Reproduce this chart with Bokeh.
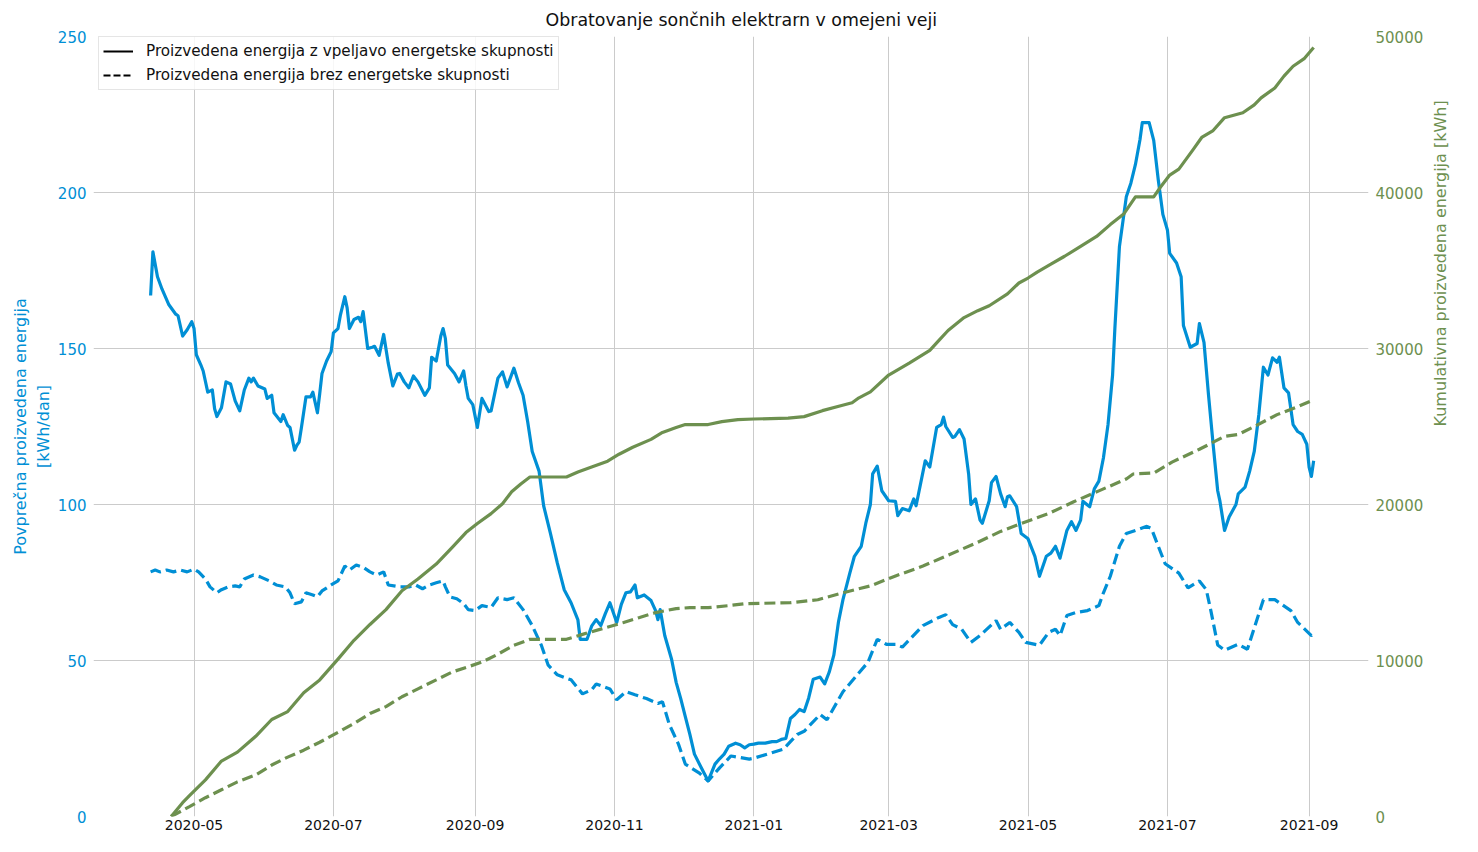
import math
import pandas as pd
from datetime import datetime
from bokeh.plotting import figure
from bokeh.models import (Range1d, LinearAxis, FixedTicker, DatetimeTickFormatter,
                          Legend, LegendItem)
from bokeh.embed import file_html
from bokeh.resources import INLINE

BLUE = "#008fd5"
GREEN = "#6d904f"
GRID = "#cbcbcb"
FONT = "DejaVu Sans"

title_text = "Obratovanje sončnih elektrarn v omejeni veji"
left_label = "Povprečna proizvedena energija\n[kWh/dan]"
right_label = "Kumulativna proizvedena energija [kWh]"
legend_labels = ["Proizvedena energija z vpeljavo energetske skupnosti",
                 "Proizvedena energija brez energetske skupnosti"]

x_tick_labels = ["2020-05", "2020-07", "2020-09", "2020-11", "2021-01",
                 "2021-03", "2021-05", "2021-07", "2021-09"]
left_ticks = [0, 50, 100, 150, 200, 250]
right_ticks = [0, 10000, 20000, 30000, 40000, 50000]

# Average daily production WITH energy community (solid blue)
solid_dates = [
    "2020-04-12", "2020-04-13", "2020-04-15", "2020-04-17", "2020-04-20", "2020-04-23", "2020-04-24", "2020-04-26", "2020-04-28", "2020-04-30",
    "2020-05-01", "2020-05-02", "2020-05-04", "2020-05-05", "2020-05-07", "2020-05-09", "2020-05-10", "2020-05-11", "2020-05-13", "2020-05-15", "2020-05-17", "2020-05-19", "2020-05-21", "2020-05-23", "2020-05-25", "2020-05-26", "2020-05-27", "2020-05-29",
    "2020-06-01", "2020-06-02", "2020-06-04", "2020-06-05", "2020-06-08", "2020-06-09", "2020-06-11", "2020-06-12", "2020-06-14", "2020-06-15", "2020-06-16", "2020-06-17", "2020-06-19", "2020-06-21", "2020-06-22", "2020-06-24", "2020-06-25", "2020-06-26", "2020-06-28", "2020-06-30",
    "2020-07-01", "2020-07-03", "2020-07-04", "2020-07-06", "2020-07-07", "2020-07-08", "2020-07-10", "2020-07-12", "2020-07-13", "2020-07-14", "2020-07-16", "2020-07-18", "2020-07-19", "2020-07-21", "2020-07-23", "2020-07-25", "2020-07-27", "2020-07-29", "2020-07-30",
    "2020-08-01", "2020-08-03", "2020-08-05", "2020-08-07", "2020-08-10", "2020-08-12", "2020-08-13", "2020-08-15", "2020-08-17", "2020-08-18", "2020-08-19", "2020-08-20", "2020-08-23", "2020-08-25", "2020-08-27", "2020-08-28", "2020-08-29", "2020-08-31",
    "2020-09-02", "2020-09-04", "2020-09-07", "2020-09-08", "2020-09-11", "2020-09-13", "2020-09-15", "2020-09-18", "2020-09-20", "2020-09-22", "2020-09-24", "2020-09-26", "2020-09-29",
    "2020-10-01", "2020-10-04", "2020-10-07", "2020-10-10", "2020-10-13", "2020-10-16", "2020-10-17", "2020-10-20", "2020-10-22", "2020-10-24", "2020-10-26", "2020-10-28", "2020-10-30",
    "2020-11-02", "2020-11-04", "2020-11-06", "2020-11-08", "2020-11-10", "2020-11-11", "2020-11-14", "2020-11-17", "2020-11-19", "2020-11-20", "2020-11-21", "2020-11-23", "2020-11-26", "2020-11-28", "2020-11-30",
    "2020-12-02", "2020-12-04", "2020-12-06", "2020-12-09", "2020-12-12", "2020-12-15", "2020-12-17", "2020-12-19", "2020-12-21", "2020-12-24", "2020-12-26", "2020-12-28", "2020-12-30",
    "2021-01-01", "2021-01-03", "2021-01-06", "2021-01-09", "2021-01-11", "2021-01-13", "2021-01-15", "2021-01-17", "2021-01-19", "2021-01-21", "2021-01-23", "2021-01-25", "2021-01-27", "2021-01-30",
    "2021-02-01", "2021-02-03", "2021-02-05", "2021-02-07", "2021-02-09", "2021-02-12", "2021-02-14", "2021-02-17", "2021-02-19", "2021-02-21", "2021-02-22", "2021-02-24", "2021-02-26",
    "2021-03-01", "2021-03-04", "2021-03-05", "2021-03-07", "2021-03-10", "2021-03-12", "2021-03-13", "2021-03-17", "2021-03-19", "2021-03-22", "2021-03-24", "2021-03-25", "2021-03-26", "2021-03-29", "2021-03-30",
    "2021-04-01", "2021-04-03", "2021-04-05", "2021-04-06", "2021-04-08", "2021-04-10", "2021-04-11", "2021-04-14", "2021-04-15", "2021-04-17", "2021-04-19", "2021-04-21", "2021-04-22", "2021-04-23", "2021-04-26", "2021-04-28",
    "2021-05-01", "2021-05-04", "2021-05-06", "2021-05-09", "2021-05-11", "2021-05-13", "2021-05-15", "2021-05-18", "2021-05-20", "2021-05-22", "2021-05-24", "2021-05-25", "2021-05-28", "2021-05-30",
    "2021-06-01", "2021-06-03", "2021-06-05", "2021-06-07", "2021-06-08", "2021-06-10", "2021-06-13", "2021-06-15", "2021-06-17", "2021-06-19", "2021-06-20", "2021-06-23", "2021-06-25", "2021-06-27", "2021-06-29",
    "2021-07-01", "2021-07-02", "2021-07-05", "2021-07-07", "2021-07-08", "2021-07-11", "2021-07-14", "2021-07-15", "2021-07-17", "2021-07-19", "2021-07-21", "2021-07-23", "2021-07-24", "2021-07-26", "2021-07-28", "2021-07-31",
    "2021-08-01", "2021-08-04", "2021-08-06", "2021-08-08", "2021-08-10", "2021-08-12", "2021-08-14", "2021-08-16", "2021-08-18", "2021-08-19", "2021-08-21", "2021-08-23", "2021-08-25", "2021-08-27", "2021-08-29", "2021-08-31",
    "2021-09-01", "2021-09-02", "2021-09-03",
]
solid_values = [
    167, 181, 173, 169, 164, 161, 160.5, 154, 156, 158.6,
    156.4, 148, 144.7, 142.8, 136, 136.7, 130.7, 128.2, 131, 139.3, 138.6, 133.2, 130, 136.7, 140.5, 139.3, 140.5, 138,
    137, 134, 135, 129.4, 126.6, 128.8, 125.3, 124.7, 117.4, 119, 120, 124.7, 134.5, 134.5, 136, 129.4, 135.5, 142, 146, 149,
    155, 156.4, 160.5, 166.6, 163, 156.4, 159.3, 160, 158.6, 161.8, 150, 150.4, 150.7, 147.8, 154.5, 145.3, 138, 141.8, 142,
    139.3, 137.4, 141.2, 139.3, 135, 137.4, 147.2, 146, 154, 156.4, 153.2, 144.7, 142, 139.3, 142.8, 138, 134, 132,
    124.7, 134, 129.8, 130, 140.5, 142.5, 137.7, 143.7, 139, 135, 126.6, 117, 110.7,
    99.6, 90.7, 81.2, 72.7, 68.5, 63, 56.8, 56.8, 61, 63.1, 61.2, 65, 68.5,
    62.2, 68, 71.7, 72, 74.2, 70.1, 71, 69.2, 66, 63.1, 66.3, 58, 50.4, 43, 37.8,
    32, 26.3, 20, 15.6, 11.4, 16.8, 18.5, 20, 22.5, 23.5, 23, 22, 23,
    23.2, 23.5, 23.5, 24, 24, 24.7, 25, 31.4, 32.7, 34.3, 33.6, 38, 44, 44.7,
    42.5, 46.3, 51.7, 62.2, 69.5, 78, 83.4, 86.6, 94, 100, 109.8, 112.3, 104.4,
    101.2, 101, 96.4, 98.7, 98, 101.8, 99.6, 114, 112, 124.7, 125.6, 128, 125, 121.5, 121.8,
    124, 121, 109.8, 100, 101.8, 95, 94, 101.2, 107, 109, 103.4, 99.3, 102.5, 102.8, 99.3, 90.7,
    89, 83.4, 77, 83.4, 84.4, 86.6, 82.8, 91.7, 94.5, 91.7, 95, 101, 99.3, 105,
    107.5, 115, 125.6, 141.5, 156.4, 182.7, 198.6, 203, 209, 217, 222.4, 222.4, 216.7, 204, 193,
    188, 180.5, 177.4, 173, 157.4, 150.4, 151.6, 158, 152, 135, 119.3, 104.4, 101, 91.7, 96, 100,
    103.4, 105.6, 110.7, 117, 128.8, 144, 141.5, 147, 145.6, 147.2, 137.4, 135.8, 125.6, 123.4, 122.5, 119.3,
    112, 109, 114,
]

# Average daily production WITHOUT energy community (dashed blue)
dashed_dates = [
    "2020-04-12", "2020-04-14", "2020-04-16", "2020-04-19", "2020-04-22", "2020-04-25", "2020-04-28",
    "2020-05-01", "2020-05-03", "2020-05-06", "2020-05-08", "2020-05-11", "2020-05-13", "2020-05-16", "2020-05-19", "2020-05-21", "2020-05-23", "2020-05-27", "2020-05-30",
    "2020-06-03", "2020-06-06", "2020-06-10", "2020-06-12", "2020-06-14", "2020-06-17", "2020-06-19", "2020-06-22", "2020-06-24", "2020-06-26", "2020-06-30",
    "2020-07-03", "2020-07-06", "2020-07-08", "2020-07-11", "2020-07-14", "2020-07-17", "2020-07-20", "2020-07-23", "2020-07-25", "2020-07-30",
    "2020-08-03", "2020-08-06", "2020-08-09", "2020-08-12", "2020-08-15", "2020-08-18", "2020-08-19", "2020-08-21", "2020-08-24", "2020-08-27", "2020-08-29",
    "2020-09-01", "2020-09-04", "2020-09-08", "2020-09-11", "2020-09-15", "2020-09-18", "2020-09-22", "2020-09-26", "2020-09-30",
    "2020-10-03", "2020-10-07", "2020-10-13", "2020-10-18", "2020-10-22", "2020-10-24", "2020-10-30",
    "2020-11-02", "2020-11-06", "2020-11-10", "2020-11-15", "2020-11-20", "2020-11-22", "2020-11-25", "2020-11-29",
    "2020-12-02", "2020-12-08", "2020-12-12", "2020-12-17", "2020-12-22", "2020-12-30",
    "2021-01-01", "2021-01-07", "2021-01-14", "2021-01-17", "2021-01-20", "2021-01-23", "2021-01-30",
    "2021-02-02", "2021-02-09", "2021-02-20", "2021-02-24", "2021-02-28",
    "2021-03-04", "2021-03-07", "2021-03-16", "2021-03-23", "2021-03-26", "2021-03-29",
    "2021-04-02", "2021-04-06", "2021-04-10", "2021-04-17", "2021-04-19", "2021-04-23", "2021-04-27", "2021-04-30",
    "2021-05-06", "2021-05-10", "2021-05-13", "2021-05-15", "2021-05-18", "2021-05-22", "2021-05-27",
    "2021-06-01", "2021-06-03", "2021-06-06", "2021-06-10", "2021-06-13", "2021-06-17", "2021-06-22", "2021-06-24", "2021-06-26", "2021-06-30",
    "2021-07-06", "2021-07-10", "2021-07-15", "2021-07-18", "2021-07-20", "2021-07-23", "2021-07-26",
    "2021-08-01", "2021-08-05", "2021-08-12", "2021-08-17", "2021-08-24", "2021-08-27",
    "2021-09-02", "2021-09-03",
]
dashed_values = [
    78.4, 79, 78.4, 79, 78.4, 79, 78.4,
    79.3, 78.4, 76.1, 73.6, 71.7, 72.7, 73.6, 73.9, 73.6, 76.1, 77.4, 76.8,
    75.5, 74.2, 73.6, 71.7, 68.2, 68.8, 71.7, 71, 70.4, 72.3, 74.2,
    75.5, 80.3, 79, 80.6, 79.9, 78.4, 77.4, 78.4, 74.2, 73.6,
    73.6, 74.2, 73, 74.2, 74.9, 75.5, 73.6, 70.4, 69.8, 68.2, 66.3,
    66, 67.6, 67, 70.1, 69.5, 70.1, 66.3, 61.2, 54.9,
    48.5, 45.4, 43.8, 39.3, 40.6, 42.5, 40.9,
    37.4, 40, 39, 37.8, 36.2, 36.8, 29.5, 23.2,
    16.8, 14, 11.4, 15.6, 19.4, 18.4,
    18.7, 20, 21.6, 24, 26.3, 27.3, 32.7,
    31, 40, 49.5, 56.8, 55.2,
    55.2, 54.3, 61.2, 63.8, 64.7, 61.5,
    60, 55.8, 58, 62.8, 60, 62.2, 59, 55.8,
    54.9, 59, 60, 58, 64.4, 65.4, 66,
    67.6, 71.7, 77, 86.6, 90.7, 91.7, 93, 92.3, 88.5, 81,
    78, 73.3, 75.5, 72.7, 66, 55, 53.3,
    55.2, 53.6, 69.5, 69.5, 66, 62.2,
    58, 58.4,
]

# Cumulative production WITH energy community (solid green, right axis)
cum_solid_dates = [
    "2020-04-21", "2020-04-26", "2020-04-29", "2020-05-06", "2020-05-13", "2020-05-20", "2020-05-28",
    "2020-06-04", "2020-06-11", "2020-06-18", "2020-06-25", "2020-07-03", "2020-07-10", "2020-07-17",
    "2020-07-24", "2020-07-31", "2020-08-07", "2020-08-15", "2020-08-22", "2020-08-28", "2020-09-02",
    "2020-09-08", "2020-09-13", "2020-09-17", "2020-09-21", "2020-09-25", "2020-10-11", "2020-10-16",
    "2020-10-22", "2020-10-29", "2020-11-03", "2020-11-09", "2020-11-17", "2020-11-22", "2020-11-28",
    "2020-12-02", "2020-12-12", "2020-12-18", "2020-12-25", "2021-01-01", "2021-01-16", "2021-01-23",
    "2021-01-31", "2021-02-08", "2021-02-13", "2021-02-16", "2021-02-21", "2021-03-01", "2021-03-10",
    "2021-03-19", "2021-03-23", "2021-03-27", "2021-04-03", "2021-04-09", "2021-04-14", "2021-04-22",
    "2021-04-27", "2021-05-01", "2021-05-05", "2021-05-11", "2021-05-17", "2021-05-24", "2021-05-31",
    "2021-06-06", "2021-06-12", "2021-06-17", "2021-06-25", "2021-06-28", "2021-07-02", "2021-07-06",
    "2021-07-12", "2021-07-16", "2021-07-21", "2021-07-26", "2021-08-03", "2021-08-08", "2021-08-11",
    "2021-08-17", "2021-08-21", "2021-08-25", "2021-08-30", "2021-09-03",
]
cum_solid_values = [
    0, 888, 1332, 2350, 3553, 4124, 5140,
    6218, 6726, 7931, 8756, 10089, 11294, 12309,
    13261, 14466, 15228, 16180, 17258, 18200, 18781,
    19416, 20050, 20812, 21319, 21764, 21764, 22081,
    22398, 22779, 23223, 23667, 24174, 24618, 24936,
    25126, 25126, 25316, 25443, 25480, 25540, 25634,
    26015, 26332, 26522, 26840, 27220, 28300, 29060,
    29885, 30520, 31155, 31980, 32424, 32740, 33500,
    34200, 34517, 34900, 35405, 35913, 36547, 37182,
    37943, 38641, 39720, 39720, 40354, 41116, 41497,
    42702, 43527, 43971, 44796, 45113, 45620, 46065,
    46700, 47460, 48095, 48600, 49300,
]

# Cumulative production WITHOUT energy community (dashed green, right axis)
cum_dashed_dates = [
    "2020-04-21", "2020-04-29", "2020-05-06", "2020-05-13", "2020-05-20", "2020-05-28", "2020-06-04",
    "2020-06-11", "2020-06-18", "2020-06-25", "2020-07-03", "2020-07-10", "2020-07-17", "2020-07-24",
    "2020-07-31", "2020-08-07", "2020-08-15", "2020-08-22", "2020-08-29", "2020-09-04", "2020-09-11",
    "2020-09-18", "2020-09-25", "2020-10-11", "2020-10-18", "2020-10-27", "2020-11-05", "2020-11-12",
    "2020-11-19", "2020-11-28", "2020-12-04", "2020-12-12", "2020-12-21", "2020-12-28", "2021-01-17",
    "2021-01-29", "2021-02-09", "2021-02-21", "2021-03-04", "2021-03-16", "2021-03-27", "2021-04-08",
    "2021-04-19", "2021-04-28", "2021-05-10", "2021-05-21", "2021-06-01", "2021-06-13", "2021-06-16",
    "2021-06-25", "2021-07-03", "2021-07-15", "2021-07-26", "2021-08-01", "2021-08-08", "2021-08-18",
    "2021-08-27", "2021-09-03",
]
cum_dashed_values = [
    0, 634, 1205, 1713, 2220, 2665, 3299,
    3807, 4251, 4759, 5393, 5964, 6599, 7043,
    7677, 8185, 8756, 9264, 9600, 9898, 10406,
    10977, 11358, 11358, 11675, 12056, 12436, 12753,
    13071, 13325, 13388, 13388, 13515, 13642, 13705,
    13896, 14340, 14784, 15418, 16053, 16751, 17512,
    18274, 18781, 19416, 20177, 20875, 21637, 21954,
    22018, 22716, 23540, 24365, 24492, 24999, 25761,
    26269, 26713,
]

to_dt = lambda lst: pd.to_datetime(lst)

x_start = datetime(2020, 3, 18)
x_end = datetime(2021, 9, 27)

p = figure(width=1462, height=836, x_axis_type="datetime",
           x_range=Range1d(x_start, x_end), y_range=Range1d(0, 250),
           output_backend="svg", toolbar_location=None,
           min_border_left=93, min_border_right=60,
           min_border_top=36, min_border_bottom=20)
p.extra_y_ranges = {"cum": Range1d(0, 50000)}

p.title.text = title_text
p.title.align = "left"
p.title.offset = 452
p.title.text_font = FONT
p.title.text_font_size = "17.4px"
p.title.text_font_style = "normal"
p.title.text_color = "#111111"
p.title.standoff = 14

p.outline_line_color = None
p.background_fill_color = "white"
p.border_fill_color = "white"

x_ticks = [pd.Timestamp(t + "-01").value // 10**6 for t in x_tick_labels]
xt = FixedTicker(ticks=x_ticks)
p.xaxis.ticker = xt
p.xaxis.formatter = DatetimeTickFormatter(days="%Y-%m", months="%Y-%m", years="%Y-%m")
p.xgrid.ticker = xt
p.ygrid.ticker = FixedTicker(ticks=left_ticks)
p.xgrid.grid_line_color = GRID
p.ygrid.grid_line_color = GRID
p.xgrid.grid_line_width = 1
p.ygrid.grid_line_width = 1

yl = p.yaxis[0]
yl.ticker = FixedTicker(ticks=left_ticks)
yl.axis_label = left_label
yl.axis_label_text_color = BLUE
yl.axis_label_text_font = FONT
yl.axis_label_text_font_size = "16px"
yl.axis_label_text_font_style = "normal"
yl.axis_label_standoff = 2
yl.major_label_text_color = BLUE
yl.major_label_text_font_size = "15px"

yr = LinearAxis(y_range_name="cum", ticker=FixedTicker(ticks=right_ticks))
yr.major_label_text_color = GREEN
yr.major_label_text_font_size = "15px"
yr.axis_label = right_label
yr.axis_label_text_color = GREEN
yr.axis_label_text_font = FONT
yr.axis_label_text_font_size = "16px"
yr.axis_label_text_font_style = "normal"
yr.axis_label_standoff = 14
if "axis_label_orientation" in yr.properties():
    yr.axis_label_orientation = math.pi / 2
p.add_layout(yr, "right")

xa = p.xaxis[0]
xa.major_label_text_color = "#111111"
xa.major_label_text_font_size = "14px"

for ax in [yl, yr, xa]:
    ax.axis_line_color = None
    ax.major_tick_line_color = None
    ax.minor_tick_line_color = None
    ax.major_tick_out = 0
    ax.major_tick_in = 0
    ax.minor_tick_out = 0
    ax.minor_tick_in = 0
    ax.major_label_text_font = FONT
    ax.major_label_standoff = 7
xa.major_label_standoff = 3

p.line(to_dt(solid_dates), solid_values, line_color=BLUE, line_width=3.2, line_join="round")
p.line(to_dt(dashed_dates), dashed_values, line_color=BLUE, line_width=3.2, line_dash="11 5")
p.line(to_dt(cum_solid_dates), cum_solid_values, line_color=GREEN, line_width=3.2,
       line_join="round", y_range_name="cum")
p.line(to_dt(cum_dashed_dates), cum_dashed_values, line_color=GREEN, line_width=3.2,
       line_dash="11 5", y_range_name="cum")

# legend entries (black keys, as in the reference); the NaN point draws nothing
r1 = p.line(x=[x_start], y=[float("nan")], line_color="black", line_width=2)
r2 = p.line(x=[x_start], y=[float("nan")], line_color="black", line_width=2, line_dash="7 3")
legend = Legend(items=[LegendItem(label=legend_labels[0], renderers=[r1]),
                       LegendItem(label=legend_labels[1], renderers=[r2])],
                location=(5, 726))
legend.label_text_font = FONT
legend.label_text_font_size = "15.2px"
legend.label_text_color = "#111111"
legend.glyph_width = 30
legend.glyph_height = 20
legend.label_height = 20
legend.label_standoff = 13
legend.spacing = 4
legend.padding = 4
legend.margin = 0
legend.border_line_color = "#cccccc"
legend.border_line_width = 1
legend.background_fill_color = "white"
legend.background_fill_alpha = 0.85
p.add_layout(legend)

open("out.html", "w").write(file_html(p, INLINE))
